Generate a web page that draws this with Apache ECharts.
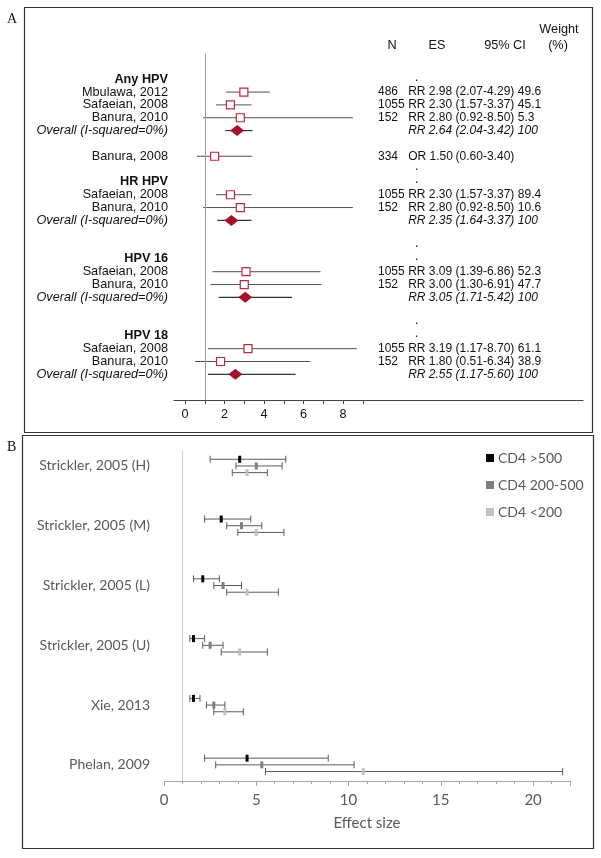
<!DOCTYPE html>
<html>
<head>
<meta charset="utf-8">
<script src="https://cdn.jsdelivr.net/npm/echarts@6/dist/echarts.min.js"></script>
<style>
html, body { margin: 0; padding: 0; background: #fff; }
#main { width: 601px; height: 858px; }
</style>
</head>
<body>
<div id="main"></div>
<script>
// ---- panel A: forest plot (rows counted from the top) ----
var rowNames = ["Any HPV", "Mbulawa, 2012", "Safaeian, 2008", "Banura, 2010", "Overall (I-squared=0%)", "",
  "Banura, 2008", "", "HR HPV", "Safaeian, 2008", "Banura, 2010", "Overall (I-squared=0%)", "", "",
  "HPV 16", "Safaeian, 2008", "Banura, 2010", "Overall (I-squared=0%)", "", "",
  "HPV 18", "Safaeian, 2008", "Banura, 2010", "Overall (I-squared=0%)"]
var rowStyle = ["h", "s", "s", "s", "o", "", "s", "", "h", "s", "s", "o", "", "", "h", "s", "s", "o", "", "", "h", "s", "s", "o"]

var studyRows = [1, 2, 3, 6, 9, 10, 15, 16, 21, 22]
var studyN = ["486", "1055", "152", "334", "1055", "152", "1055", "152", "1055", "152"]
var studyType = ["RR", "RR", "RR", "OR", "RR", "RR", "RR", "RR", "RR", "RR"]
var studyEs = [2.98, 2.30, 2.80, 1.50, 2.30, 2.80, 3.09, 3.00, 3.19, 1.80]
var studyLo = [2.07, 1.57, 0.92, 0.60, 1.57, 0.92, 1.39, 1.30, 1.17, 0.51]
var studyHi = [4.29, 3.37, 8.50, 3.40, 3.37, 8.50, 6.86, 6.91, 8.70, 6.34]
var studyWeight = ["49.6", "45.1", "5.3", "", "89.4", "10.6", "52.3", "47.7", "61.1", "38.9"]

var overallRows = [4, 11, 17, 23]
var overallEs = [2.64, 2.35, 3.05, 2.55]
var overallLo = [2.04, 1.64, 1.71, 1.17]
var overallHi = [3.42, 3.37, 5.42, 5.60]
var overallWeight = ["100", "100", "100", "100"]

var dotRows = [0, 7, 8, 13, 14, 19, 20]
var ticksA = [0, 1, 2, 3, 4, 5, 6, 7, 8, 9]
var labelsA = [0, 2, 4, 6, 8]

// ---- panel B: effect size by CD4 count ----
var studiesB = ["Strickler, 2005 (H)", "Strickler, 2005 (M)", "Strickler, 2005 (L)", "Strickler, 2005 (U)", "Xie, 2013", "Phelan, 2009"]
var highEs = [4.1, 3.1, 2.1, 1.6, 1.6, 4.5]
var highLo = [2.5, 2.2, 1.6, 1.4, 1.4, 2.2]
var highHi = [6.6, 4.7, 3.0, 2.2, 1.95, 8.9]
var midEs = [5.0, 4.2, 3.2, 2.5, 2.7, 5.3]
var midLo = [3.9, 3.4, 2.7, 2.1, 2.3, 2.8]
var midHi = [6.4, 5.3, 4.2, 3.2, 3.3, 10.3]
var lowEs = [4.5, 5.0, 4.5, 4.1, 3.3, 10.8]
var lowLo = [3.7, 4.0, 3.4, 3.1, 2.7, 5.5]
var lowHi = [5.6, 6.5, 6.2, 5.6, 4.3, 21.6]

var fontA = '"Liberation Sans", Arial, sans-serif'
var fontB = 'Lato, "Open Sans", sans-serif'
var sizeA = 12.7
var sizeT = 12

var chartDom = document.getElementById("main")
var myChart = echarts.init(chartDom)

function renderStudy(params, api) {
  var lo = api.coord([api.value(0), api.value(3)])
  var es = api.coord([api.value(1), api.value(3)])
  var hi = api.coord([api.value(2), api.value(3)])
  var s = 8
  return {
    type: "group",
    children: [
      { type: "line", shape: { x1: lo[0], y1: lo[1], x2: hi[0], y2: hi[1] }, style: { stroke: "#505050", lineWidth: 1 } },
      { type: "rect", shape: { x: es[0] - s / 2, y: es[1] - s / 2, width: s, height: s }, style: { fill: "#fff", stroke: "#c1273f", lineWidth: 1.2 } }
    ]
  }
}

function renderOverall(params, api) {
  var lo = api.coord([api.value(0), api.value(3)])
  var es = api.coord([api.value(1), api.value(3)])
  var hi = api.coord([api.value(2), api.value(3)])
  var w = 7, h = 5.5
  return {
    type: "group",
    children: [
      { type: "line", shape: { x1: lo[0], y1: lo[1], x2: hi[0], y2: hi[1] }, style: { stroke: "#333", lineWidth: 1.2 } },
      { type: "polygon", shape: { points: [[es[0] - w, es[1]], [es[0], es[1] - h], [es[0] + w, es[1]], [es[0], es[1] + h]] }, style: { fill: "#a5102c" } }
    ]
  }
}

// table columns, in units of panel A's x axis
var colN = 9.77, colEs = 11.3, colCi = 13.7, colW = 16.85

function tableRenderer(italic, nArr, typeArr, esArr, loArr, hiArr, wArr) {
  return function (params, api) {
    var i = params.dataIndex
    var row = api.value(0)
    var font = (italic ? "italic " : "") + sizeT + "px " + fontA
    var cells = [
      [colN, nArr ? nArr[i] : ""],
      [colEs, typeArr[i] + " " + esArr[i].toFixed(2)],
      [colCi, "(" + loArr[i].toFixed(2) + "-" + hiArr[i].toFixed(2) + ")"],
      [colW, wArr[i]]
    ]
    return {
      type: "group",
      children: cells.map(function (c) {
        var p = api.coord([c[0], row])
        return { type: "text", x: p[0], y: p[1], style: { text: c[1], font: font, fill: "#111", align: "left", verticalAlign: "middle" } }
      })
    }
  }
}

function renderDot(params, api) {
  var p = api.coord([colEs + 0.35, api.value(0)])
  return { type: "text", x: p[0], y: p[1] - 2, style: { text: ".", font: sizeT + "px " + fontA, fill: "#111", align: "left", verticalAlign: "middle" } }
}

var offB = 0.112
function makeErr(off) {
  return function (params, api) {
    var row = api.value(3) + off
    var l = api.coord([api.value(0), row])
    var e = api.coord([api.value(1), row])
    var h = api.coord([api.value(2), row])
    var cap = 3.5
    var st = { stroke: "#5b5b5b", lineWidth: 1 }
    return {
      type: "group",
      children: [
        { type: "line", shape: { x1: l[0], y1: l[1], x2: h[0], y2: h[1] }, style: st },
        { type: "line", shape: { x1: l[0], y1: l[1] - cap, x2: l[0], y2: l[1] + cap }, style: st },
        { type: "line", shape: { x1: h[0], y1: h[1] - cap, x2: h[0], y2: h[1] + cap }, style: st },
        { type: "rect", shape: { x: e[0] - 1.5, y: e[1] - 3.5, width: 3, height: 7 }, style: { fill: api.visual("color") } }
      ]
    }
  }
}

function zip3(lo, es, hi, rows) {
  return es.map(function (v, i) { return [lo[i], v, hi[i], rows ? rows[i] : i] })
}

var headStyle = function (txt, x, y) {
  return { type: "text", x: x, y: y, style: { text: txt, font: sizeA + "px " + fontA, fill: "#111", align: "center", verticalAlign: "middle" } }
}

var option = {
  animation: false,
  backgroundColor: "#fff",
  grid: [
    { left: 174, right: 18, top: 53.6, bottom: 458 },
    { left: 164, right: 31, top: 451, bottom: 77 }
  ],
  legend: {
    data: ["CD4 >500", "CD4 200-500", "CD4 <200"],
    orient: "vertical",
    left: 481,
    top: 446,
    icon: "rect",
    itemWidth: 8,
    itemHeight: 8,
    itemGap: 13,
    textStyle: { fontFamily: fontB, fontSize: 14, color: "#595959", padding: [0, 0, 0, -1] }
  },
  xAxis: [
    {
      gridIndex: 0, type: "value", min: -0.557, max: 20.15,
      axisLine: { onZero: false, lineStyle: { color: "#444", width: 1 } },
      axisTick: { customValues: ticksA, length: 4, lineStyle: { color: "#444" } },
      axisLabel: { customValues: labelsA, fontFamily: fontA, fontSize: sizeA, color: "#111", margin: 8 },
      splitLine: { show: false }
    },
    {
      gridIndex: 1, type: "value", min: 0, max: 22, interval: 5,
      axisLine: { onZero: false, lineStyle: { color: "#a6a6a6" } },
      axisTick: { length: 5, lineStyle: { color: "#a6a6a6" } },
      minorTick: { show: true, splitNumber: 5, length: 3, lineStyle: { color: "#a6a6a6" } },
      axisLabel: { fontFamily: fontB, fontSize: 15, color: "#595959", margin: 12, showMaxLabel: false },
      splitLine: { show: false },
      name: "Effect size", nameLocation: "middle", nameGap: 35,
      nameTextStyle: { fontFamily: fontB, fontSize: 15, color: "#595959" }
    }
  ],
  yAxis: [
    {
      gridIndex: 0, type: "value", inverse: true, min: -2, max: 25,
      axisLine: { show: false }, axisTick: { show: false }, splitLine: { show: false },
      axisLabel: {
        customValues: rowNames.map(function (n, i) { return n ? i : -1 }).filter(function (i) { return i >= 0 }),
        margin: 6,
        formatter: function (v) { return "{" + rowStyle[v] + "|" + rowNames[v] + "}" },
        rich: {
          h: { fontFamily: fontA, fontSize: sizeA, fontWeight: "bold", color: "#111" },
          s: { fontFamily: fontA, fontSize: sizeA, color: "#111" },
          o: { fontFamily: fontA, fontSize: sizeA, fontStyle: "italic", color: "#111" }
        }
      }
    },
    {
      gridIndex: 1, type: "value", inverse: true, min: -0.25, max: 5.27,
      axisLine: { show: false }, axisTick: { show: false }, splitLine: { show: false },
      axisLabel: {
        customValues: [0, 1, 2, 3, 4, 5], margin: 14,
        fontFamily: fontB, fontSize: 14, color: "#595959",
        formatter: function (v) { return studiesB[v] }
      }
    }
  ],
  series: [
    {
      type: "custom", name: "studies", xAxisIndex: 0, yAxisIndex: 0,
      renderItem: renderStudy, encode: { x: [0, 1, 2], y: 3 },
      data: zip3(studyLo, studyEs, studyHi, studyRows),
      markLine: {
        silent: true, symbol: "none", label: { show: false },
        lineStyle: { color: "#9a9a9a", width: 1, type: "solid" },
        data: [{ xAxis: 1 }]
      },
      z: 3
    },
    {
      type: "custom", name: "overall", xAxisIndex: 0, yAxisIndex: 0,
      renderItem: renderOverall, encode: { x: [0, 1, 2], y: 3 },
      data: zip3(overallLo, overallEs, overallHi, overallRows), z: 4
    },
    {
      type: "custom", name: "tableStudies", xAxisIndex: 0, yAxisIndex: 0,
      renderItem: tableRenderer(false, studyN, studyType, studyEs, studyLo, studyHi, studyWeight),
      encode: { y: 0 }, data: studyRows.map(function (r) { return [r] })
    },
    {
      type: "custom", name: "tableOverall", xAxisIndex: 0, yAxisIndex: 0,
      renderItem: tableRenderer(true, null, ["RR", "RR", "RR", "RR"], overallEs, overallLo, overallHi, overallWeight),
      encode: { y: 0 }, data: overallRows.map(function (r) { return [r] })
    },
    {
      type: "custom", name: "dots", xAxisIndex: 0, yAxisIndex: 0,
      renderItem: renderDot, encode: { y: 0 }, data: dotRows.map(function (r) { return [r] })
    },
    {
      type: "custom", name: "CD4 >500", xAxisIndex: 1, yAxisIndex: 1,
      itemStyle: { color: "#000" }, renderItem: makeErr(-offB), encode: { x: [0, 1, 2], y: 3 },
      data: zip3(highLo, highEs, highHi),
      markLine: {
        silent: true, symbol: "none", label: { show: false },
        lineStyle: { color: "#d0d0d0", width: 1, type: "solid" },
        data: [{ xAxis: 1 }]
      }
    },
    {
      type: "custom", name: "CD4 200-500", xAxisIndex: 1, yAxisIndex: 1,
      itemStyle: { color: "#7f7f7f" }, renderItem: makeErr(0), encode: { x: [0, 1, 2], y: 3 },
      data: zip3(midLo, midEs, midHi)
    },
    {
      type: "custom", name: "CD4 <200", xAxisIndex: 1, yAxisIndex: 1,
      itemStyle: { color: "#bfbfbf" }, renderItem: makeErr(offB), encode: { x: [0, 1, 2], y: 3 },
      data: zip3(lowLo, lowEs, lowHi)
    }
  ],
  graphic: [
    { type: "rect", shape: { x: 24.5, y: 7.5, width: 568, height: 425 }, style: { fill: "none", stroke: "#333", lineWidth: 1.2 }, silent: true },
    { type: "rect", shape: { x: 22.5, y: 435.5, width: 571, height: 413 }, style: { fill: "none", stroke: "#333", lineWidth: 1.2 }, silent: true },
    { type: "text", x: 7, y: 12, style: { text: "A", font: '14px "Liberation Serif", serif', fill: "#111" } },
    { type: "text", x: 7, y: 440, style: { text: "B", font: '14px "Liberation Serif", serif', fill: "#111" } },
    headStyle("N", 392, 45),
    headStyle("ES", 437, 45),
    headStyle("95% CI", 505, 45),
    headStyle("Weight", 559, 29),
    headStyle("(%)", 558, 45)
  ]
}

option && myChart.setOption(option)
</script>
</body>
</html>
